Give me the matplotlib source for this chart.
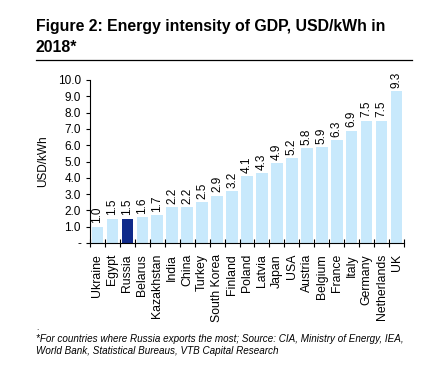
import matplotlib
matplotlib.use('Agg')
import matplotlib.pyplot as plt
from matplotlib.lines import Line2D

plt.rcParams['font.family'] = ['Liberation Sans', 'DejaVu Sans']

countries = ['Ukraine', 'Egypt', 'Russia', 'Belarus', 'Kazakhstan', 'India', 'China',
             'Turkey', 'South Korea', 'Finland', 'Poland', 'Latvia', 'Japan', 'USA',
             'Austria', 'Belgium', 'France', 'Italy', 'Germany', 'Netherlands', 'UK']
values = [1.0, 1.5, 1.5, 1.6, 1.7, 2.2, 2.2, 2.5, 2.9, 3.2, 4.1, 4.3, 4.9, 5.2,
          5.8, 5.9, 6.3, 6.9, 7.5, 7.5, 9.3]
y_ticks = [0, 1, 2, 3, 4, 5, 6, 7, 8, 9, 10]
y_tick_labels = ['-', '1.0', '2.0', '3.0', '4.0', '5.0', '6.0', '7.0', '8.0', '9.0', '10.0']

C_LIGHT = '#C8E9FC'
C_RUSSIA = '#0F2A8A'

fig = plt.figure(figsize=(4.46, 3.71), dpi=100, facecolor='white')

# title + rule
fig.text(36/446, 1 - 37/371, 'Figure 2: Energy intensity of GDP, USD/kWh in\n2018*',
         ha='left', va='center', fontsize=11.4, fontweight='bold', linespacing=1.45)
fig.add_artist(Line2D([36/446, 412/446], [1 - 59.5/371, 1 - 59.5/371], color='black', linewidth=0.9))

ax = fig.add_axes([90/446, 1 - 243/371, 314/446, 163/371])
colors = [C_RUSSIA if c == 'Russia' else C_LIGHT for c in countries]
x = range(len(countries))
ax.bar(x, values, width=0.78, color=colors)
for i, v in zip(x, values):
    ax.text(i, v + 0.2, f'{v:.1f}', rotation=90, ha='center', va='bottom', fontsize=8.5)

ax.set_xlim(-0.5, len(countries) - 0.5)
ax.set_ylim(0, 10)
ax.set_yticks(y_ticks)
ax.set_yticklabels(y_tick_labels, fontsize=8.5)
ax.set_xticks([i + 0.5 for i in range(-1, len(countries))], minor=False)
ax.set_xticklabels([''] * (len(countries) + 1))
ax.set_xticks(list(x), minor=True)
ax.set_xticklabels(countries, minor=True, rotation=90, fontsize=8.8)
ax.tick_params(axis='x', which='major', direction='inout', length=6, width=0.8)
ax.tick_params(axis='x', which='minor', length=0, pad=8)
ax.tick_params(axis='y', direction='out', length=3, width=0.8)
ax.set_ylabel('USD/kWh', fontsize=8.5, labelpad=6)
for s in ['top', 'right']:
    ax.spines[s].set_visible(False)
ax.spines['left'].set_linewidth(0.8)
ax.spines['bottom'].set_linewidth(0.8)

# footnote
fig.text(36/446, 1 - 329/371, '.', ha='left', va='center', fontsize=6)
fig.text(36/446, 1 - 345.5/371,
         '*For countries where Russia exports the most; Source: CIA, Ministry of Energy, IEA,\n'
         'World Bank, Statistical Bureaus, VTB Capital Research',
         ha='left', va='center', fontsize=7.1, style='italic', linespacing=1.25)

plt.savefig('out.png', dpi=100, facecolor='white')
